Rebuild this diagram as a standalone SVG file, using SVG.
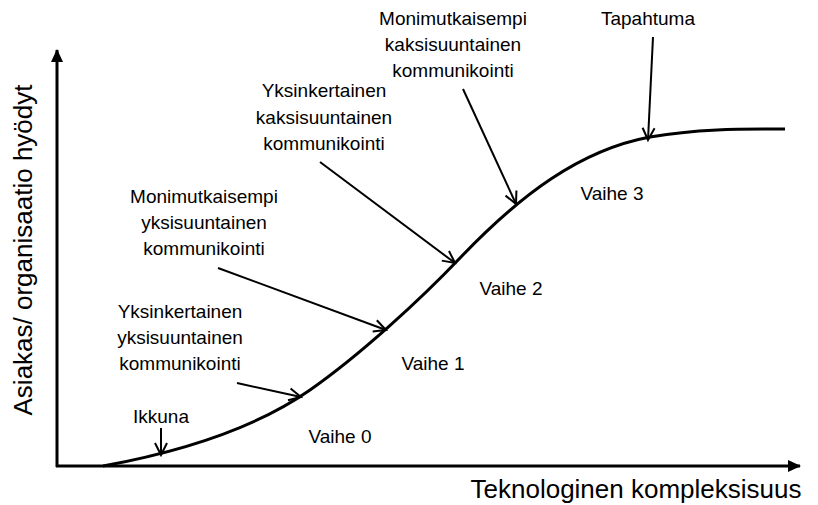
<svg xmlns="http://www.w3.org/2000/svg" width="818" height="505" viewBox="0 0 818 505">
  <style>
    text { font-family: "Liberation Sans", Arial, sans-serif; fill: #000; }
    .lbl { font-size: 19px; text-anchor: middle; }
    .axis-title { font-size: 26px; text-anchor: middle; }
    .axis { stroke: #000; stroke-width: 3; fill: none; }
    .curve { stroke: #000; stroke-width: 3; fill: none; }
    .pointer { stroke: #000; stroke-width: 2; fill: none; marker-end: url(#open); }
  </style>
  <defs>
    <marker id="solid" markerUnits="userSpaceOnUse" markerWidth="14" markerHeight="12" refX="12" refY="6" orient="auto">
      <path d="M0,0 L13,6 L0,12 Z" fill="#000"/>
    </marker>
    <marker id="open" markerUnits="userSpaceOnUse" markerWidth="16" markerHeight="16" refX="13" refY="8" orient="auto">
      <path d="M1,2 L13,8 L1,14" fill="none" stroke="#000" stroke-width="2"/>
    </marker>
  </defs>
  <rect width="818" height="505" fill="#fff"/>

  <g id="axes">
    <line class="axis" x1="57" y1="467" x2="57" y2="50" marker-end="url(#solid)"/>
    <line class="axis" x1="56" y1="466" x2="800" y2="466" marker-end="url(#solid)"/>
    <text class="axis-title" x="636" y="498">Teknologinen kompleksisuus</text>
    <text class="axis-title" transform="translate(32,250) rotate(-90)">Asiakas/ organisaatio hyödyt</text>
  </g>

  <g id="adoption-curve">
    <path class="curve" d="M103,466 C190,450 260,425 310,390 C360,355 420,300 460,258 C520,195 580,150 650,137 C700,128 750,129 785,129"/>
  </g>

  <g id="connectors">
    <line class="pointer" x1="161" y1="428" x2="161" y2="455"/>
    <line class="pointer" x1="237" y1="383" x2="301" y2="397"/>
    <line class="pointer" x1="218" y1="268" x2="386" y2="330"/>
    <line class="pointer" x1="320" y1="162" x2="455" y2="263"/>
    <line class="pointer" x1="463" y1="89" x2="516" y2="204"/>
    <line class="pointer" x1="653" y1="37" x2="648" y2="140"/>
  </g>

  <g id="ikkuna">
    <text class="lbl" x="161" y="423">Ikkuna</text>
  </g>
  <g id="yksinkertainen-yksisuuntainen">
    <text class="lbl" x="180" y="318">Yksinkertainen</text>
    <text class="lbl" x="180" y="344">yksisuuntainen</text>
    <text class="lbl" x="180" y="370">kommunikointi</text>
  </g>
  <g id="monimutkaisempi-yksisuuntainen">
    <text class="lbl" x="204" y="203">Monimutkaisempi</text>
    <text class="lbl" x="204" y="229">yksisuuntainen</text>
    <text class="lbl" x="204" y="255">kommunikointi</text>
  </g>
  <g id="yksinkertainen-kaksisuuntainen">
    <text class="lbl" x="324" y="97">Yksinkertainen</text>
    <text class="lbl" x="324" y="124">kaksisuuntainen</text>
    <text class="lbl" x="324" y="150">kommunikointi</text>
  </g>
  <g id="monimutkaisempi-kaksisuuntainen">
    <text class="lbl" x="453" y="25">Monimutkaisempi</text>
    <text class="lbl" x="453" y="51">kaksisuuntainen</text>
    <text class="lbl" x="453" y="77">kommunikointi</text>
  </g>
  <g id="tapahtuma">
    <text class="lbl" x="648" y="25">Tapahtuma</text>
  </g>

  <g id="phases">
    <text class="lbl" x="340" y="443">Vaihe 0</text>
    <text class="lbl" x="433" y="370">Vaihe 1</text>
    <text class="lbl" x="511" y="295">Vaihe 2</text>
    <text class="lbl" x="612" y="200">Vaihe 3</text>
  </g>
</svg>
